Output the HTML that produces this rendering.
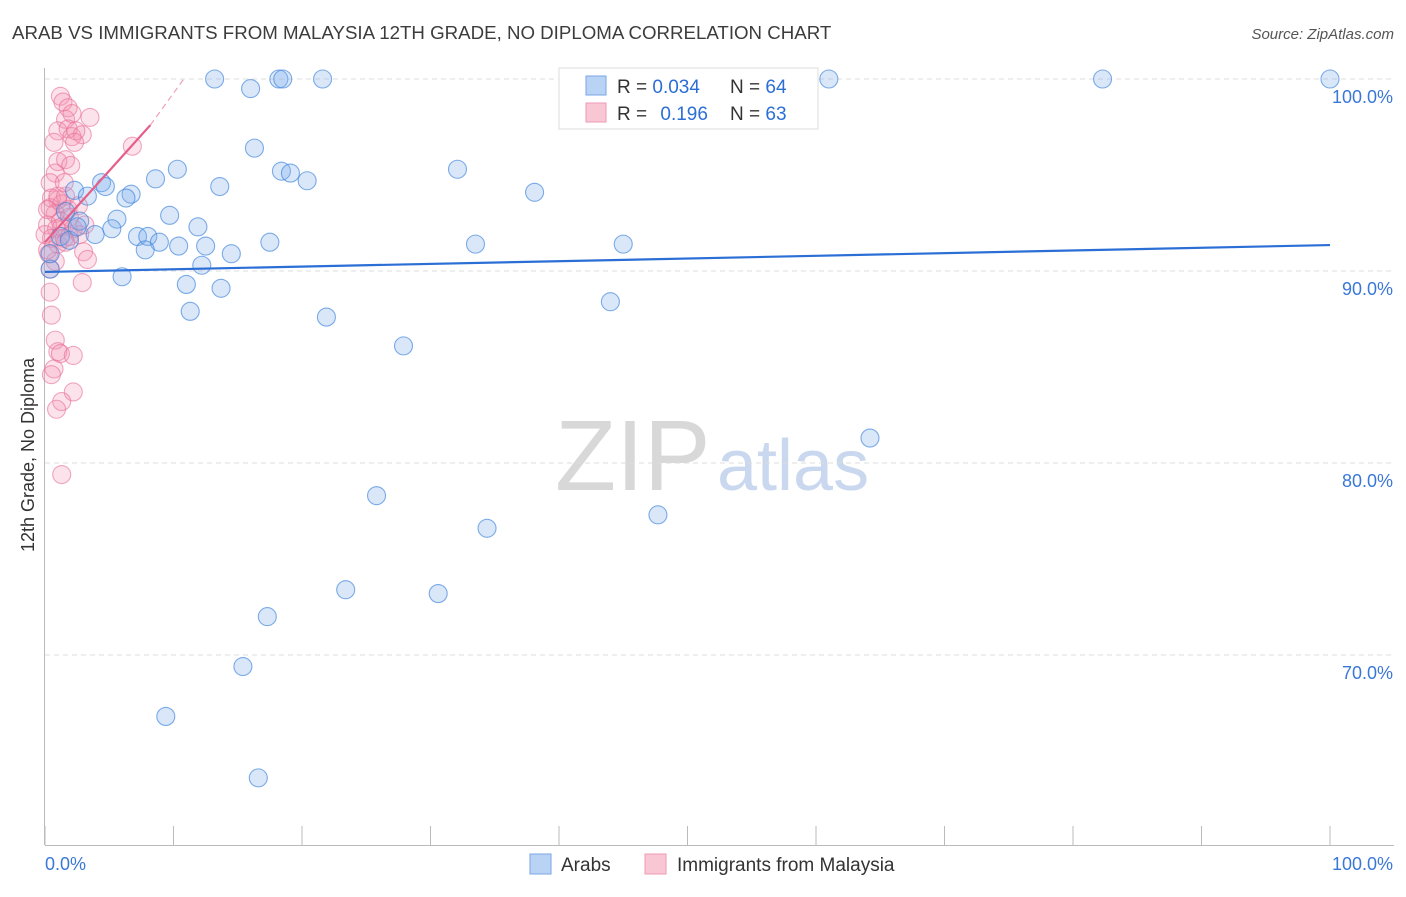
<!DOCTYPE html>
<html><head><meta charset="utf-8">
<style>
body{margin:0;background:#fff;font-family:"Liberation Sans",sans-serif;}
svg text{font-family:"Liberation Sans",sans-serif;}
</style></head>
<body>
<svg id="chart" width="1406" height="892" xmlns="http://www.w3.org/2000/svg">
<text x="12" y="39" font-size="18.7" fill="#3c3c3c">ARAB VS IMMIGRANTS FROM MALAYSIA 12TH GRADE, NO DIPLOMA CORRELATION CHART</text>
<text x="1394" y="39" font-size="15" fill="#555" text-anchor="end" font-style="italic">Source: ZipAtlas.com</text>
<g>
<text x="555" y="490" font-size="100" fill="#d8d8d8" font-family="Liberation Serif">ZIP</text>
<text x="717" y="490" font-size="72" fill="#c9d8ee">atlas</text>
</g>
<g id="grid"></g>
<g id="axes"></g>
<g id="pink"></g>
<g id="blue"></g>
<g id="trends"></g>
<g>
<rect x="559" y="68" width="259" height="61" fill="#fff" stroke="#ddd"/>
<rect x="586" y="76" width="20" height="19" fill="#b9d3f5" stroke="#7aa6e6"/>
<rect x="586" y="103" width="20" height="19" fill="#f9c6d4" stroke="#ee9ab3"/>
<text x="617" y="93" font-size="19" fill="#333">R = <tspan fill="#2b6fd6">0.034</tspan></text>
<text x="730" y="93" font-size="19" fill="#333">N = <tspan fill="#2b6fd6">64</tspan></text>
<text x="617" y="120" font-size="19" fill="#333">R = <tspan fill="#2b6fd6" dx="8">0.196</tspan></text>
<text x="730" y="120" font-size="19" fill="#333">N = <tspan fill="#2b6fd6">63</tspan></text>
</g>
<g>
<rect x="530" y="854" width="21" height="20" fill="#b9d3f5" stroke="#7aa6e6"/>
<text x="561" y="871" font-size="19" fill="#333">Arabs</text>
<rect x="645" y="854" width="21" height="20" fill="#f9c6d4" stroke="#ee9ab3"/>
<text x="677" y="871" font-size="19" fill="#333">Immigrants from Malaysia</text>
</g>
<text transform="translate(34,455) rotate(-90)" font-size="18" fill="#333" text-anchor="middle">12th Grade, No Diploma</text>
</svg>
<script>
const yTicks=[100,90,80,70];
const yTickLabels=["100.0%","90.0%","80.0%","70.0%"];
const xTickLabels=["0.0%","100.0%"];
const blueX=[13.2,16,18.2,18.5,21.6,61,82.3,100,47.1,16.3,10.3,8.6,13.6,4.4,4.7,2.3,3.3,6.7,6.3,18.4,19.1,20.4,32.1,38.1,9.7,5.6,2.7,1.6,11.9,5.2,3.9,7.2,8,8.9,10.4,12.5,14.5,17.5,33.5,45,7.8,12.2,6,11,13.7,11.3,44,21.9,27.9,1.2,0.4,1.9,64.2,25.8,34.4,47.7,23.4,30.6,17.3,15.4,9.4,16.6,0.4,2.5];
const blueY=[100,99.5,100,100,100,100,100,100,100,96.4,95.3,94.8,94.4,94.6,94.4,94.2,93.9,94,93.8,95.2,95.1,94.7,95.3,94.1,92.9,92.7,92.6,93.1,92.3,92.2,91.9,91.8,91.8,91.5,91.3,91.3,90.9,91.5,91.4,91.4,91.1,90.3,89.7,89.3,89.1,87.9,88.4,87.6,86.1,91.8,90.1,91.6,81.3,78.3,76.6,77.3,73.4,73.2,72,69.4,66.8,63.6,90.9,92.3];
const pinkX=[1.2,1.4,1.8,1.6,2.1,3.5,1,1.8,2.1,2.9,2.4,6.8,1,1.6,2,0.8,0.4,0.5,1,0.4,1.3,1.8,0.8,0.2,0.9,1.3,2.2,2.7,0.5,1,1.5,1.9,3,0.3,0.8,3.3,2.9,0.5,0.8,1,1.2,2.2,0.7,0.5,2.2,1.3,0.9,1.3,0.2,0.4,1.6,2.6,1.2,0,1.9,2.3,0.7,3.1,0.4,1.6,1,0.2,1.5];
const pinkY=[99.1,98.8,98.5,97.9,98.2,98,97.3,97.4,97,97.1,97.3,96.5,95.7,95.8,95.5,95.1,94.6,93.8,93.7,93.3,93.5,93.2,93,92.4,92.2,92.3,92.2,91.9,91.7,91.4,91.7,91.8,91,90.9,90.5,90.6,89.4,87.7,86.4,85.8,85.7,85.6,84.9,84.6,83.7,83.2,82.8,79.4,91.1,90.1,93.9,93.4,92.6,91.9,92.8,96.7,96.7,92.4,88.9,91.5,93.9,93.2,94.6];
const blueTrend=[0,89.95,100,91.35];
const pinkTrend=[0,91.5,8.2,97.6];
const pinkTrendDash=[8.2,97.6,10.8,100];
const NS="http://www.w3.org/2000/svg";
const X=v=>45+v*12.85, Y=v=>79+(100-v)*19.2;
function mk(tag,attrs,parent){const e=document.createElementNS(NS,tag);for(const k in attrs)e.setAttribute(k,attrs[k]);parent.appendChild(e);return e;}
const grid=document.getElementById('grid'),axes=document.getElementById('axes');
yTicks.forEach((t,i)=>{
 const l=mk('line',{x1:45,x2:1394,y1:Y(t),y2:Y(t),stroke:'#ddd','stroke-dasharray':'5,4'},grid);
 
 
 const tx=mk('text',{x:1393,y:Y(t)+24,'font-size':18,fill:'#3a78d8','text-anchor':'end'},axes);
 tx.textContent=yTickLabels[i];
 
 
});
mk('line',{x1:44.5,x2:44.5,y1:68,y2:845,stroke:'#bbb'},axes);
mk('line',{x1:45,x2:1394,y1:845.5,y2:845.5,stroke:'#bbb'},axes);
for(let i=0;i<=10;i++){mk('line',{x1:X(i*10),x2:X(i*10),y1:826,y2:845,stroke:'#bbb'},axes);}
const xl0=mk('text',{x:45,y:870,'font-size':18,fill:'#3a78d8'},axes);xl0.textContent=xTickLabels[0];


const xl1=mk('text',{x:1393,y:870,'font-size':18,fill:'#3a78d8','text-anchor':'end'},axes);xl1.textContent=xTickLabels[1];


const pg=document.getElementById('pink'),bg=document.getElementById('blue');
pinkX.forEach((v,i)=>{const c=mk('circle',{cx:X(v),cy:Y(pinkY[i]),r:9,fill:'rgba(244,143,177,0.25)',stroke:'rgba(232,110,150,0.6)','stroke-width':1.1},pg);
 
 });
blueX.forEach((v,i)=>{const c=mk('circle',{cx:X(v),cy:Y(blueY[i]),r:9,fill:'rgba(130,175,235,0.3)',stroke:'rgba(60,130,220,0.65)','stroke-width':1.1},bg);
 
 });
const tg=document.getElementById('trends');
const b=mk('line',{x1:X(blueTrend[0]),y1:Y(blueTrend[1]),x2:X(blueTrend[2]),y2:Y(blueTrend[3]),stroke:'#2b6fd6','stroke-width':2.2},tg);


const p=mk('line',{x1:X(pinkTrend[0]),y1:Y(pinkTrend[1]),x2:X(pinkTrend[2]),y2:Y(pinkTrend[3]),stroke:'#e4608a','stroke-width':2.2},tg);


const pd=mk('line',{x1:X(pinkTrendDash[0]),y1:Y(pinkTrendDash[1]),x2:X(pinkTrendDash[2]),y2:Y(pinkTrendDash[3]),stroke:'#f0a0b8','stroke-width':1.2,'stroke-dasharray':'6,4'},tg);


</script>
</body></html>
